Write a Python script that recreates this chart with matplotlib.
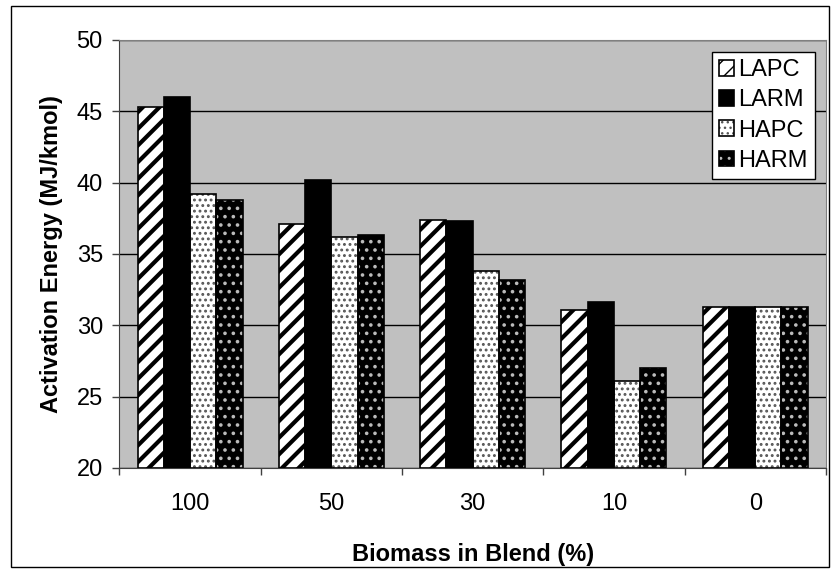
import numpy as np
import matplotlib.pyplot as plt
from matplotlib.patches import Rectangle

plt.rcParams['font.family'] = ['Liberation Sans', 'DejaVu Sans']

# Data
blends = ["100", "50", "30", "10", "0"]
series = ["LAPC", "LARM", "HAPC", "HARM"]
lapc = [45.3, 37.1, 37.4, 31.1, 31.3]
larm = [46.0, 40.2, 37.3, 31.6, 31.3]
hapc = [39.2, 36.2, 33.8, 26.1, 31.3]
harm = [38.8, 36.3, 33.2, 27.0, 31.3]

# fill colour, hatch colour, hatch pattern, hatch linewidth
styles = [
    ("white", "black", "//", 3.0),
    ("black", "black", None, 1.0),
    ("white", "#555555", "...", 1.3),
    ("black", "#bbbbbb", "..", 1.4),
]

fig = plt.figure(figsize=(8.31, 5.71), dpi=100)
ax = fig.add_axes([0.1438, 0.1804, 0.850, 0.7496])
ax.set_facecolor("#c0c0c0")

x = np.arange(len(blends))
w = 0.186
handles = []
for i, (vals, (fc, hc, hatch, hlw)) in enumerate(zip([lapc, larm, hapc, harm], styles)):
    pos = x + (i - 1.5) * w
    heights = np.array(vals) - 20
    with plt.rc_context({'hatch.linewidth': hlw}):
        ax.bar(pos, heights, w, bottom=20, color=fc, edgecolor=hc, hatch=hatch,
               linewidth=0, zorder=3)
        h = Rectangle((0, 0), 1, 1, facecolor=fc, edgecolor=hc, hatch=hatch, linewidth=0)
    ax.bar(pos, heights, w, bottom=20, fill=False, edgecolor="black",
           linewidth=1.2, zorder=4)
    outline = Rectangle((0, 0), 1, 1, fill=False, edgecolor="black", linewidth=1.2)
    handles.append((h, outline))

ax.set_ylim(20, 50)
ax.set_xlim(-0.5, len(blends) - 0.5)
ax.set_yticks(range(20, 51, 5))
ax.set_xticks(x)
ax.set_xticklabels(blends)
ax.set_xticks(np.arange(-0.5, len(blends), 1), minor=True)
ax.tick_params(axis='x', which='major', length=0, pad=18, labelsize=17)
ax.tick_params(axis='x', which='minor', length=5, width=1, color="#404040")
ax.tick_params(axis='y', length=5, width=1, color="#404040", labelsize=17, pad=7)
ax.yaxis.grid(True, color="black", linewidth=1)
ax.set_axisbelow(True)

for s in ["top", "right"]:
    ax.spines[s].set_color("#808080")
ax.spines["left"].set_color("#404040")
ax.spines["bottom"].set_color("#404040")

ax.set_xlabel("Biomass in Blend (%)", fontsize=17, fontweight="bold", labelpad=20)
ax.set_ylabel("Activation Energy (MJ/kmol)", fontsize=17, fontweight="bold", labelpad=10)

leg = ax.legend(handles, series, loc="upper right", bbox_to_anchor=(0.984, 0.972),
                fontsize=17, handlelength=0.65, handleheight=0.65, handletextpad=0.15,
                labelspacing=0.35, borderpad=0.3, borderaxespad=0, fancybox=False,
                framealpha=1)
leg.get_frame().set_edgecolor("black")
leg.get_frame().set_linewidth(1)

# outer chart border
fig.patches.append(Rectangle((0.013, 0.007), 0.985, 0.982, transform=fig.transFigure,
                             fill=False, edgecolor="black", linewidth=1))

fig.savefig("out.png", dpi=100)
